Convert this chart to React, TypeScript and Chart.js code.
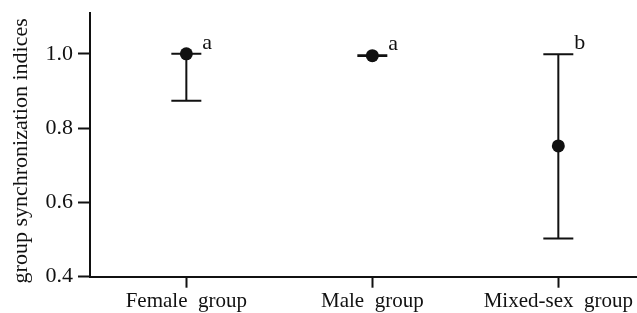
import React, { useEffect, useRef } from "react";
import { Chart, registerables } from "chart.js";

Chart.register(...registerables);

const categories = ["Female  group", "Male  group", "Mixed-sex  group"];
const means = [1.0, 0.995, 0.752];
const lowerValues = [0.874, 0.994, 0.503];
const upperValues = [1.0, 0.996, 0.999];
const letters = ["a", "a", "b"];
const yTicks = [0.4, 0.6, 0.8, 1.0];
const yTitle = "group synchronization indices";

const FONT = "'Liberation Serif', 'Times New Roman', serif";
const INK = "#111111";

const errorBarsPlugin = {
  id: "errorBars",
  beforeDatasetsDraw(chart: any) {
    const { ctx, scales } = chart;
    const x = scales.x;
    const y = scales.y;
    ctx.save();
    ctx.strokeStyle = INK;
    ctx.lineWidth = 2;
    categories.forEach((_, i) => {
      const px = x.getPixelForValue(i);
      const yl = y.getPixelForValue(lowerValues[i]);
      const yu = y.getPixelForValue(upperValues[i]);
      ctx.beginPath();
      ctx.moveTo(px, yl);
      ctx.lineTo(px, yu);
      ctx.moveTo(px - 15, yl);
      ctx.lineTo(px + 15, yl);
      ctx.moveTo(px - 15, yu);
      ctx.lineTo(px + 15, yu);
      ctx.stroke();
    });
    ctx.restore();
  },
  afterDatasetsDraw(chart: any) {
    const { ctx, scales } = chart;
    const x = scales.x;
    const y = scales.y;
    ctx.save();
    ctx.fillStyle = INK;
    ctx.font = `22px ${FONT}`;
    ctx.textAlign = "left";
    ctx.textBaseline = "alphabetic";
    categories.forEach((_, i) => {
      const px = x.getPixelForValue(i);
      const yu = y.getPixelForValue(upperValues[i]);
      ctx.fillText(letters[i], px + 16, yu - 5);
    });
    ctx.restore();
  },
  afterDraw(chart: any) {
    const { ctx, chartArea } = chart;
    ctx.save();
    ctx.fillStyle = INK;
    ctx.font = `22px ${FONT}`;
    ctx.textAlign = "center";
    ctx.textBaseline = "middle";
    ctx.translate(21, (chartArea.top + chartArea.bottom) / 2 + 6);
    ctx.rotate(-Math.PI / 2);
    ctx.fillText(yTitle, 0, 0);
    ctx.restore();
  },
};

export default function App() {
  const canvasRef = useRef<HTMLCanvasElement | null>(null);

  useEffect(() => {
    const canvas = canvasRef.current;
    if (!canvas) return;
    const chart = new Chart(canvas, {
      type: "scatter",
      data: {
        datasets: [
          {
            data: categories.map((_, i) => ({ x: i, y: means[i] })),
            pointRadius: 6.5,
            pointHoverRadius: 6.5,
            backgroundColor: INK,
            borderColor: INK,
            borderWidth: 0,
            showLine: false,
          },
        ],
      },
      options: {
        responsive: false,
        animation: false,
        devicePixelRatio: 1,
        layout: { autoPadding: false, padding: { top: 13, left: 0, right: 0, bottom: 0 } },
        plugins: {
          legend: { display: false },
          tooltip: { enabled: false },
        },
        scales: {
          x: {
            type: "linear",
            min: -0.518,
            max: 2.423,
            afterBuildTicks: (s: any) => {
              s.ticks = categories.map((_, i) => ({ value: i }));
            },
            afterFit: (s: any) => {
              s.paddingLeft = 0;
              s.paddingRight = 0;
              s.height = 36.3;
            },
            ticks: {
              callback: (v: any) => categories[Math.round(Number(v))] ?? "",
              font: { family: FONT, size: 21 },
              color: INK,
              padding: 1,
              maxRotation: 0,
              autoSkip: false,
            },
            grid: {
              drawOnChartArea: false,
              drawTicks: true,
              tickLength: 11,
              tickWidth: 2,
              tickColor: INK,
            },
            border: { display: true, color: INK, width: 2 },
          },
          y: {
            type: "linear",
            min: 0.4,
            max: 1.11,
            afterBuildTicks: (s: any) => {
              s.ticks = yTicks.map((v) => ({ value: v }));
            },
            afterFit: (s: any) => {
              s.width = 90;
              s.paddingTop = 0;
              s.paddingBottom = 0;
            },
            ticks: {
              callback: (v: any) => Number(v).toFixed(1),
              font: { family: FONT, size: 22 },
              color: INK,
              padding: 5,
            },
            grid: {
              drawOnChartArea: false,
              drawTicks: true,
              tickLength: 12,
              tickWidth: 2,
              tickColor: INK,
            },
            border: { display: true, color: INK, width: 2 },
          },
        },
      },
      plugins: [errorBarsPlugin],
    });
    return () => chart.destroy();
  }, []);

  return (
    <div
      style={{
        position: "absolute",
        left: 0,
        top: 0,
        width: 637,
        height: 313,
        overflow: "hidden",
        background: "#ffffff",
      }}
    >
      <canvas ref={canvasRef} width={637} height={313} style={{ display: "block" }} />
    </div>
  );
}
